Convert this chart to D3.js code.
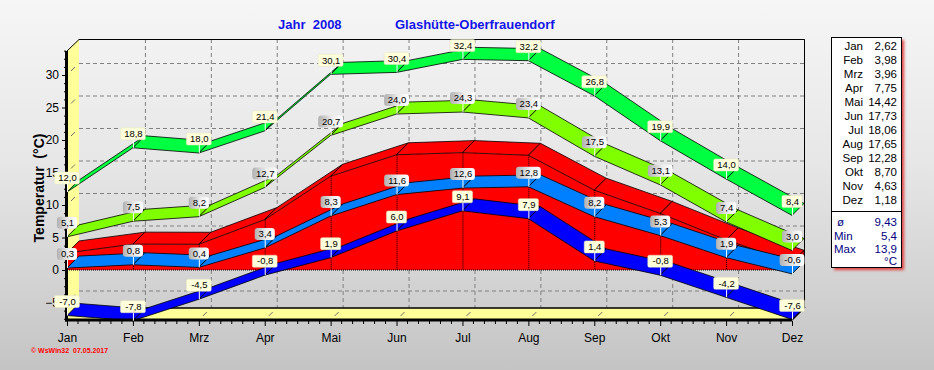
<!DOCTYPE html>
<html>
<head>
<meta charset="utf-8">
<script src="https://cdn.jsdelivr.net/npm/d3@7/dist/d3.min.js"></script>
<style>
html,body{margin:0;padding:0;background:#ddd;}
svg{display:block;font-family:Arial,'Liberation Sans',sans-serif;}
</style>
</head>
<body>
<div id="chart"></div>
<script>
var months=['Jan','Feb','Mrz','Apr','Mai','Jun','Jul','Aug','Sep','Okt','Nov','Dez'];
var absMax=[12.0,18.8,18.0,21.4,30.1,30.4,32.4,32.2,26.8,19.9,14.0,8.4];	//absolute Maxima
var meanMax=[5.1,7.5,8.2,12.7,20.7,24.0,24.3,23.4,17.5,13.1,7.4,3.0];	//mittlere Maxima
var meanTemp=[2.62,3.98,3.96,7.75,14.42,17.73,18.06,17.65,12.28,8.70,4.63,1.18];	//Monatsmittel
var meanMin=[0.3,0.8,0.4,3.4,8.3,11.6,12.6,12.8,8.2,5.3,1.9,-0.6];	//mittlere Minima
var absMin=[-7.0,-7.8,-4.5,-0.8,1.9,6.0,9.1,7.9,1.4,-0.8,-4.2,-7.6];	//absolute Minima
var yTicks=[-5,0,5,10,15,20,25,30];
var summaryLabels=['ø','Min','Max'];
var summaryValues=[9.43,5.4,13.9];

var W=934,H=370,D=12;	//D = Tiefe des 3D-Effekts
var loc=d3.formatLocale({decimal:',',thousands:'.',grouping:[3],currency:['','€'],minus:'-'});
var f1=loc.format('.1f'),f2=loc.format('.2f');

var x=d3.scalePoint().domain(months).range([67,792]);
var y=d3.scaleLinear().domain([0,30]).range([270,75]);
var yMin=y.invert(320),yMax=y.invert(51);
var step=x.step();

var svg=d3.select('#chart').append('svg').attr('width',W).attr('height',H);
var defs=svg.append('defs');

var bg=defs.append('linearGradient').attr('id','bg').attr('gradientUnits','userSpaceOnUse')
	.attr('x1',0).attr('y1',0).attr('x2',0).attr('y2',H);
bg.append('stop').attr('offset',0).attr('stop-color','#f6f6f6');
bg.append('stop').attr('offset',0.45).attr('stop-color','#e6e6e6');
bg.append('stop').attr('offset',1).attr('stop-color','#c4c4c4');

var gl=defs.append('linearGradient').attr('id','grayLbl');
gl.append('stop').attr('offset',0).attr('stop-color','#b0b0b0');
gl.append('stop').attr('offset',0.55).attr('stop-color','#ebebeb');
gl.append('stop').attr('offset',1).attr('stop-color','#ffffff');

var blur=defs.append('filter').attr('id','shadow').attr('x','-20%').attr('y','-20%').attr('width','150%').attr('height','150%');
blur.append('feGaussianBlur').attr('stdDeviation',1.6);

svg.append('rect').attr('width',W).attr('height',H).attr('fill','url(#bg)');

// Titel
svg.append('text').attr('x',278).attr('y',29).attr('fill','#1414e6').attr('font-weight','bold').attr('font-size',13)
	.text('Jahr  2008').style('white-space','pre');
svg.append('text').attr('x',395).attr('y',29).attr('fill','#1414e6').attr('font-weight','bold').attr('font-size',13)
	.text('Glashütte-Oberfrauendorf');

var x0=x(months[0]),x1=x(months[months.length-1]),yTop=y(yMax),yBot=y(yMin);

// Rückwand, linke Wand, Boden
svg.append('rect').attr('x',x0+D).attr('y',yTop-D).attr('width',x1-x0).attr('height',yBot-yTop)
	.attr('fill','url(#bg)');
svg.append('path').attr('fill','#ffff99')
	.attr('d','M'+x0+','+yTop+'L'+(x0+D)+','+(yTop-D)+'L'+(x0+D)+','+(yBot-D)+'L'+x0+','+yBot+'Z');
svg.append('path').attr('fill','#ffff99')
	.attr('d','M'+x0+','+yBot+'L'+(x0+D)+','+(yBot-D)+'L'+(x1+D)+','+(yBot-D)+'L'+x1+','+yBot+'Z');

// Gitter
var grid=svg.append('g').attr('stroke','#808080').attr('stroke-dasharray','4,3').attr('fill','none');
yTicks.forEach(function(t){
	grid.append('line').attr('x1',x0+D).attr('x2',x1+D).attr('y1',y(t)-D+0.5).attr('y2',y(t)-D+0.5);
});
months.forEach(function(m,i){
	if(i==0) return;
	grid.append('line').attr('x1',x(m)+D+0.5).attr('x2',x(m)+D+0.5).attr('y1',yTop-D).attr('y2',yBot-D);
});

// kleine Tiefenstriche
var marks=svg.append('g').attr('stroke','#707070');
yTicks.forEach(function(t){
	marks.append('line').attr('x1',x0+4).attr('y1',y(t)-4).attr('x2',x0+8).attr('y2',y(t)-8);
});
months.forEach(function(m){
	marks.append('line').attr('x1',x(m)+4).attr('y1',yBot-4).attr('x2',x(m)+8).attr('y2',yBot-8);
});

// Rahmen
var frame=svg.append('g').attr('stroke','#000').attr('fill','none');
frame.append('path').attr('d','M'+x0+','+yTop+'L'+(x0+D)+','+(yTop-D+0.5)+'L'+(x1+D+0.5)+','+(yTop-D+0.5)+'L'+(x1+D+0.5)+','+(yBot-D));
frame.append('path').attr('d','M'+(x0+D)+','+(yBot-D)+'L'+(x1+D)+','+(yBot-D)+'L'+x1+','+yBot).attr('stroke-width',1.5);

// 3D-Fläche Monatsmittel
function topFace(vals,i){
	var a=x(months[i]),b=x(months[i+1]),ya=y(vals[i]),yb=y(vals[i+1]);
	return 'M'+a+','+ya+'L'+b+','+yb+'L'+(b+D)+','+(yb-D)+'L'+(a+D)+','+(ya-D)+'Z';
}
var area=svg.append('g');
var front=d3.area().x(function(d,i){return x(months[i])}).y0(y(0)).y1(function(d){return y(d)});
area.append('path').attr('d',front(meanTemp)).attr('fill','#ff0000');
area.append('path').attr('fill','#ff0000').attr('stroke','#000').attr('stroke-width',0.8)
	.attr('d','M'+x1+','+y(meanTemp[11])+'L'+(x1+D)+','+(y(meanTemp[11])-D)+'L'+(x1+D)+','+(y(0)-D)+'L'+x1+','+y(0)+'Z');
for(var i=0;i<months.length-1;i++){
	area.append('path').attr('d',topFace(meanTemp,i)).attr('fill','#ff0000').attr('stroke','#000').attr('stroke-width',0.8);
}
area.append('line').attr('x1',x0).attr('x2',x1).attr('y1',y(0)).attr('y2',y(0))
	.attr('stroke','#000').attr('stroke-dasharray','1,1');
months.forEach(function(m,i){
	area.append('line').attr('x1',x(m)+0.5).attr('x2',x(m)+0.5).attr('y1',y(meanTemp[i])).attr('y2',y(0))
		.attr('stroke','#000').attr('stroke-dasharray','1,1');
});

// Bänder
var series=[
	{vals:absMin,color:'#0000ff',lbl:'yellow'},
	{vals:meanMin,color:'#0080ff',lbl:'gray'},
	{vals:meanMax,color:'#80ff00',lbl:'gray'},
	{vals:absMax,color:'#00ff40',lbl:'yellow'}
];
series.forEach(function(s){
	var g=svg.append('g');
	for(var i=0;i<months.length-1;i++){
		g.append('path').attr('d',topFace(s.vals,i)).attr('fill',s.color).attr('stroke','#000').attr('stroke-width',0.8);
	}
});

// Achsen
var axL=svg.append('g').attr('transform','translate('+(x0-1)+',0)')
	.call(d3.axisLeft(y).tickValues(yTicks).tickSize(4).tickPadding(3).tickFormat(d3.format('d')));
axL.select('.domain').remove();
axL.selectAll('text').attr('font-size',12).attr('font-family','Arial,Liberation Sans').attr('fill','#000');
var minorY=d3.range(-7.5,33.8,1.25).filter(function(v){return yTicks.indexOf(v)<0});
svg.append('g').attr('transform','translate('+(x0-1)+',0)')
	.call(d3.axisLeft(y).tickValues(minorY).tickSize(2).tickFormat(''))
	.select('.domain').remove();

var axB=svg.append('g').attr('transform','translate(0,'+(yBot+1)+')')
	.call(d3.axisBottom(x).tickSize(5).tickPadding(7));
axB.select('.domain').remove();
axB.selectAll('text').attr('font-size',12).attr('font-family','Arial,Liberation Sans').attr('fill','#000');
var minorX=[];
months.slice(0,-1).forEach(function(m){
	for(var k=1;k<6;k++) minorX.push(x(m)+k*step/6);
});
svg.append('g').selectAll('line').data(minorX).join('line')
	.attr('x1',function(d){return d}).attr('x2',function(d){return d})
	.attr('y1',yBot+1).attr('y2',yBot+4).attr('stroke','#000');

svg.append('line').attr('x1',x0-0.5).attr('x2',x0-0.5).attr('y1',yTop).attr('y2',yBot+1.5)
	.attr('stroke','#000').attr('stroke-width',3);
svg.append('line').attr('x1',x0-2).attr('x2',x1).attr('y1',yBot).attr('y2',yBot)
	.attr('stroke','#000').attr('stroke-width',3);

svg.append('text').attr('transform','translate(44,188) rotate(-90)').attr('text-anchor','middle')
	.attr('font-weight','bold').attr('font-size',14).style('white-space','pre').text('Temperatur  (°C)');

// Werte-Beschriftung
series.forEach(function(s){
	var g=svg.append('g').attr('font-size',9.5);
	s.vals.forEach(function(v,i){
		var px=x(months[i]),py=y(v),t=f1(v);
		var w=t.length*4.7+6;
		g.append('line').attr('x1',px+0.5).attr('x2',px+0.5).attr('y1',py-8).attr('y2',py)
			.attr('stroke','#fff');
		g.append('rect').attr('x',px-w/2).attr('y',py-20).attr('width',w).attr('height',12)
			.attr('rx',s.lbl=='gray'?3:1.5)
			.attr('fill',s.lbl=='gray'?'url(#grayLbl)':'#ffffdc')
			.attr('stroke',s.lbl=='gray'?'none':'#e4e4c0').attr('stroke-width',0.5);
		g.append('text').attr('x',px+0.5).attr('y',py-10.8).attr('text-anchor','middle').attr('fill','#000').text(t);
	});
});

// Legende
var lg=svg.append('g').attr('transform','translate(831,37)');
lg.append('rect').attr('x',3).attr('y',3).attr('width',70).attr('height',230).attr('fill','#e04040')
	.attr('filter','url(#shadow)');
lg.append('rect').attr('x',0.5).attr('y',0.5).attr('width',70).attr('height',230).attr('fill','#fff').attr('stroke','#000');
lg.append('line').attr('x1',0).attr('x2',71).attr('y1',174.5).attr('y2',174.5).attr('stroke','#000');
months.forEach(function(m,i){
	lg.append('text').attr('x',32).attr('y',12.5+i*14.05).attr('text-anchor','end').attr('font-size',11.5).text(m);
	lg.append('text').attr('x',66).attr('y',12.5+i*14.05).attr('text-anchor','end').attr('font-size',11.5).text(f2(meanTemp[i]));
});
summaryLabels.forEach(function(l,i){
	lg.append('text').attr('x',i==0?6:3).attr('y',189+i*13.5).attr('font-size',11.5).attr('fill','#000080').text(l);
	lg.append('text').attr('x',66).attr('y',189+i*13.5).attr('text-anchor','end').attr('font-size',11.5).attr('fill','#000080')
		.text(i==0?f2(summaryValues[i]):f1(summaryValues[i]));
});
lg.append('text').attr('x',66).attr('y',228).attr('text-anchor','end').attr('font-size',11.5).attr('fill','#000080').text('°C');

// Fußzeile
svg.append('text').attr('x',31).attr('y',353).attr('font-size',7).attr('font-weight','bold').attr('fill','#ff0000')
	.style('white-space','pre').text('© WsWin32  07.05.2017');
</script>
</body>
</html>
